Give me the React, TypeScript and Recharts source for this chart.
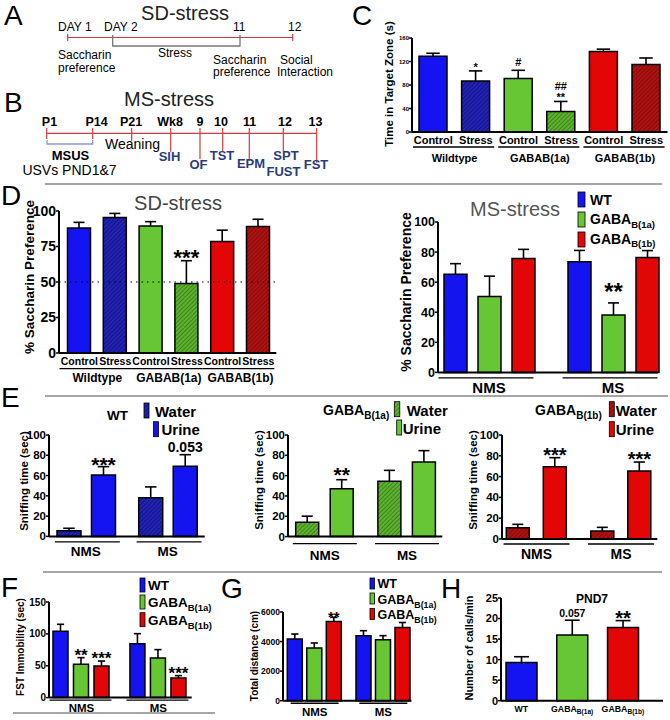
import React from 'react';
import { BarChart, Bar, XAxis, YAxis, Cell, LabelList, ReferenceLine } from 'recharts';

const FONT = '"Liberation Sans", Arial, Helvetica, sans-serif';

const BLUE = '#1414f2';
const GREEN = '#66c633';
const RED = '#e20606';
const BLUE_H = 'url(#hatchBlue)';
const GREEN_H = 'url(#hatchGreen)';
const RED_H = 'url(#hatchRed)';

// C: time in target zone (SD-stress)
const cCats = ['Control', 'Stress', 'Control', 'Stress', 'Control', 'Stress'];
const cGroups = ['Wildtype', 'GABAB(1a)', 'GABAB(1b)'];
const cMean = [129, 87, 91, 35, 137, 115];
const cSem = [5, 17, 14, 17, 4, 11];
const cSig = ['', '*', '#', '##|**', '', ''];
const cTicks = [0, 40, 80, 120, 160];

// D left: saccharin preference, SD-stress
const dCats = ['Control', 'Stress', 'Control', 'Stress', 'Control', 'Stress'];
const dGroups = ['Wildtype', 'GABAB(1a)', 'GABAB(1b)'];
const dMean = [88, 95.5, 89.5, 49, 78.5, 89];
const dSem = [4, 2.8, 3, 16, 8, 5.2];
const dSig = ['', '', '', '***', '', ''];
const dTicks = [0, 25, 50, 75, 100];

// D right: saccharin preference, MS-stress
const msGroups = ['NMS', 'MS'];
const msWT = [65.3, 73.6];
const msWTErr = [7, 7.5];
const msA = [50.5, 38.2];
const msAErr = [13.5, 8];
const msB = [75.8, 76.4];
const msBErr = [6, 4.6];
const msSigA = ['', '**'];
const pctTicks = [0, 20, 40, 60, 80, 100];

// E: sniffing time
const eGroups = ['NMS', 'MS'];
const eWtWater = [5.6, 38];
const eWtWaterErr = [2.4, 10.8];
const eWtUrine = [60.6, 69.2];
const eWtUrineErr = [8.2, 11.4];
const eWtSig = ['***', '0.053'];
const eAWater = [14.1, 54.4];
const eAWaterErr = [6, 10.8];
const eAUrine = [47.2, 73.4];
const eAUrineErr = [8.8, 11.2];
const eASig = ['**', ''];
const eBWater = [10.9, 7.7];
const eBWaterErr = [3.2, 3.5];
const eBUrine = [69.5, 65.4];
const eBUrineErr = [8.7, 8.6];
const eBSig = ['***', '***'];

// F: FST immobility
const fWT = [104, 84.6];
const fWTErr = [11, 15.7];
const fA = [52.2, 62];
const fAErr = [10.5, 13.3];
const fASig = ['**', ''];
const fB = [49.6, 30.7];
const fBErr = [7.8, 3.8];
const fBSig = ['***', '***'];
const fTicks = [0, 50, 100, 150];

// G: total distance
const gWT = [4170, 4400];
const gWTErr = [340, 335];
const gA = [3565, 4120];
const gAErr = [340, 280];
const gB = [5360, 4950];
const gBErr = [275, 340];
const gBSig = ['**', ''];
const gTicks = [0, 2000, 4000, 6000];

// H: USV calls at PND7
const hCats = ['WT', 'GABA_B(1a)', 'GABA_B(1b)'];
const hMean = [9.3, 16, 17.8];
const hSem = [1.4, 3.6, 1.7];
const hSig = ['', '0.057', '**'];
const hTicks = [0, 5, 10, 15, 20, 25];

type Series = { key: string; mean: number[]; err: number[]; sig?: string[]; fill: string | string[] };

function Whisker(p: any) {
  const { x, y, width, height } = p;
  if (!(height > 0)) return null;
  const cx = x + width / 2;
  const c = width * 0.24;
  return (
    <g>
      <line x1={cx} x2={cx} y1={y + height} y2={y} stroke="#000" strokeWidth={1.6} />
      <line x1={cx - c} x2={cx + c} y1={y} y2={y} stroke="#000" strokeWidth={1.6} />
    </g>
  );
}

function SigLabel(p: any) {
  const vb = p.viewBox ?? p;
  if (!p.value) return null;
  const cx = vb.x + vb.width / 2;
  let bottom = vb.y - p.gap;
  const lines = String(p.value).split('|').reverse();
  return (
    <g>
      {lines.map((ln, k) => {
        const star = /^\*+$/.test(ln);
        const fs = star ? p.starFs : p.txtFs;
        const base = star ? bottom + fs * 0.36 : bottom;
        bottom -= (star ? fs * 0.36 : fs * 0.72) + 3;
        return (
          <text key={k} x={cx} y={base} textAnchor="middle" fontSize={fs} fontWeight={700} fontFamily={FONT} fill="#000">
            {ln}
          </text>
        );
      })}
    </g>
  );
}

const Sub = ({ text, sfs, dy = 0.42 }: { text: string; sfs: number; dy?: number }) => {
  const [main, sub] = text.split('_');
  return (
    <>
      {main}
      {sub && <tspan fontSize={sfs} dy={sfs * dy}>{sub}</tspan>}
    </>
  );
};

const pairTick = (cats: string[], groups: string[], band: number, o: any) => (p: any) => {
  const i = p.index;
  const { x, y } = p;
  return (
    <g fontFamily={FONT} fontWeight={700} fill="#000">
      <text x={x} y={y + o.ly} textAnchor="middle" fontSize={o.fs}>{cats[i]}</text>
      {i % 2 === 0 && (
        <>
          <line x1={x - band / 2 + o.a} x2={x + 1.5 * band - o.b} y1={y + o.lineY} y2={y + o.lineY} stroke="#000" strokeWidth={1.3} />
          <text x={x + band / 2} y={y + o.gy} textAnchor="middle" fontSize={o.gfs}>{groups[i / 2]}</text>
        </>
      )}
    </g>
  );
};

const groupTick = (cats: string[], o: any) => (p: any) => {
  const { x, y } = p;
  return (
    <g fontFamily={FONT} fontWeight={700} fill="#000">
      <line x1={x + o.dx - o.w / 2} x2={x + o.dx + o.w / 2} y1={y + o.lineY} y2={y + o.lineY} stroke="#000" strokeWidth={1.4} />
      <text x={x} y={y + o.ly} textAnchor="middle" fontSize={o.fs}>{cats[p.index]}</text>
    </g>
  );
};

const hTick = (p: any) => (
  <text x={p.x} y={p.y + 11} textAnchor="middle" fontSize={8.8} fontWeight={700} fontFamily={FONT} fill="#000">
    <Sub text={hCats[p.index]} sfs={6.6} />
  </text>
);

type PanelProps = {
  x0: number; y0: number; x1: number; y1: number;
  cats: string[]; series: Series[]; max: number; ticks: number[]; tickFs: number;
  barSize: number; barGap?: number; pad?: { left: number; right: number };
  tick: any; starFs?: number; txtFs?: number; gap?: number; dotted?: number; yw?: number;
};

function Panel(pp: PanelProps) {
  const yw = pp.yw ?? 44;
  const TOP = 50;
  const RIGHT = 20;
  const XH = 42;
  const rows = pp.cats.map((c, i) => {
    const r: Record<string, any> = { name: `${c}-${i}` };
    pp.series.forEach((s) => {
      r[s.key] = s.mean[i];
      r[s.key + 'E'] = s.err[i];
      r[s.key + 'S'] = s.sig ? s.sig[i] : '';
    });
    return r;
  });
  const bars = pp.series.flatMap((s) => [
    <Bar key={s.key} dataKey={s.key} stackId={s.key} fill={typeof s.fill === 'string' ? s.fill : '#000'}
      stroke="#000" strokeWidth={1.5} isAnimationActive={false}>
      {Array.isArray(s.fill) ? s.fill.map((f, i) => <Cell key={i} fill={f} />) : null}
    </Bar>,
    <Bar key={s.key + 'E'} dataKey={s.key + 'E'} stackId={s.key} fill="none" shape={<Whisker />} isAnimationActive={false}>
      <LabelList dataKey={s.key + 'S'} content={<SigLabel gap={pp.gap ?? 3} starFs={pp.starFs ?? 18} txtFs={pp.txtFs ?? 12} />} />
    </Bar>,
  ]);
  return (
    <div style={{ position: 'absolute', left: pp.x0 - yw, top: pp.y0 - TOP }}>
      <BarChart width={pp.x1 - pp.x0 + yw + RIGHT} height={pp.y1 - pp.y0 + TOP + XH} data={rows}
        margin={{ top: TOP, right: RIGHT, bottom: 0, left: 0 }} barGap={pp.barGap ?? 4} barSize={pp.barSize}>
        <XAxis dataKey="name" height={XH} interval={0} tickLine={false} tickSize={0} tickMargin={0}
          axisLine={{ stroke: '#000', strokeWidth: 2 }} padding={pp.pad ?? { left: 0, right: 0 }} tick={pp.tick} />
        <YAxis width={yw} domain={[0, pp.max]} ticks={pp.ticks} interval={0} tickSize={3} tickMargin={0}
          axisLine={{ stroke: '#000', strokeWidth: 2 }} tickLine={{ stroke: '#000', strokeWidth: 1.5 }}
          tick={{ fontSize: pp.tickFs, fontWeight: 700, fill: '#000', fontFamily: FONT }} />
        {pp.dotted != null && <ReferenceLine y={pp.dotted} stroke="#000" strokeDasharray="1.5 4" strokeWidth={1.2} />}
        {bars}
      </BarChart>
    </div>
  );
}

const YLabel = ({ cx, cy, fs, children }: any) => (
  <text transform={`translate(${cx + fs * 0.36},${cy}) rotate(-90)`} textAnchor="middle" fontSize={fs} fontWeight={700}>
    {children}
  </text>
);

const Swatch = ({ x, y, w, h, fill }: any) => <rect x={x} y={y} width={w} height={h} fill={fill} stroke="#000" strokeWidth={0.8} />;

function Overlay() {
  const tl = '#d23c3c';
  const navy = '#2b3b7e';
  return (
    <svg width={670} height={720} style={{ position: 'absolute', left: 0, top: 0, pointerEvents: 'none' }}
      fontFamily={FONT} fill="#000">
      <defs>
        <pattern id="hatchBlue" width="3" height="3" patternUnits="userSpaceOnUse" patternTransform="rotate(45)">
          <rect width="3" height="3" fill="#2323b4" />
          <line x1="0" y1="0" x2="0" y2="3" stroke="#0a0a6e" strokeWidth="1.3" />
        </pattern>
        <pattern id="hatchGreen" width="3" height="3" patternUnits="userSpaceOnUse" patternTransform="rotate(45)">
          <rect width="3" height="3" fill="#5db22e" />
          <line x1="0" y1="0" x2="0" y2="3" stroke="#2f6a12" strokeWidth="1.3" />
        </pattern>
        <pattern id="hatchRed" width="3" height="3" patternUnits="userSpaceOnUse" patternTransform="rotate(45)">
          <rect width="3" height="3" fill="#b01212" />
          <line x1="0" y1="0" x2="0" y2="3" stroke="#6a0808" strokeWidth="1.3" />
        </pattern>
      </defs>

      {/* panel letters */}
      <g fontSize={28}>
        <text x={4} y={25}>A</text>
        <text x={4} y={112}>B</text>
        <text x={352} y={25}>C</text>
        <text x={1} y={205}>D</text>
        <text x={1} y={407}>E</text>
        <text x={1} y={597}>F</text>
        <text x={221} y={598}>G</text>
        <text x={441} y={598}>H</text>
      </g>

      {/* separators */}
      <g stroke="#888" strokeWidth={1.5}>
        <line x1={45} x2={662} y1={184} y2={184} />
        <line x1={45} x2={668} y1={396} y2={396} />
        <line x1={43} x2={662} y1={572} y2={572} />
        <line x1={13} x2={215} y1={713} y2={713} />
      </g>

      {/* A: SD-stress timeline */}
      <text x={185} y={20} fontSize={20} textAnchor="middle" fill="#222">SD-stress</text>
      <g fontSize={12}>
        <text x={58} y={31}>DAY 1</text>
        <text x={104} y={31}>DAY 2</text>
        <text x={233} y={31}>11</text>
        <text x={288} y={31}>12</text>
        <text x={58} y={59}>Saccharin</text>
        <text x={58} y={72}>preference</text>
        <text x={158} y={57}>Stress</text>
        <text x={213} y={63.5}>Saccharin</text>
        <text x={213} y={76}>preference</text>
        <text x={280} y={63.5}>Social</text>
        <text x={277} y={76}>Interaction</text>
      </g>
      <g stroke={tl} strokeWidth={1.2}>
        <line x1={67.7} x2={292.7} y1={37.5} y2={37.5} />
        <line x1={67.7} x2={67.7} y1={34} y2={41} />
        <line x1={292.7} x2={292.7} y1={34} y2={41} />
      </g>
      <path d="M112.7 35 V46 H240 V35" stroke="#777" strokeWidth={1.3} fill="none" />

      {/* B: MS-stress timeline */}
      <text x={169} y={106} fontSize={20} textAnchor="middle" fill="#222">MS-stress</text>
      <g fontSize={12.5} fontWeight={700} textAnchor="middle">
        <text x={49.5} y={126}>P1</text>
        <text x={96.5} y={126}>P14</text>
        <text x={131} y={126}>P21</text>
        <text x={170} y={126}>Wk8</text>
        <text x={200} y={126}>9</text>
        <text x={221} y={126}>10</text>
        <text x={249.5} y={126}>11</text>
        <text x={285} y={126}>12</text>
        <text x={315.5} y={126}>13</text>
      </g>
      <g stroke={tl} strokeWidth={1.2}>
        <line x1={46.7} x2={316.7} y1={133.3} y2={133.3} />
        <line x1={46.7} x2={46.7} y1={128} y2={139} />
        <line x1={92.7} x2={92.7} y1={128} y2={139} />
        <line x1={131.7} x2={131.7} y1={128} y2={141} />
        <line x1={170.7} x2={170.7} y1={128} y2={151.7} />
        <line x1={200} x2={200} y1={128} y2={159} />
        <line x1={222.7} x2={222.7} y1={128} y2={151.7} />
        <line x1={249.3} x2={249.3} y1={128} y2={160.7} />
        <line x1={283.3} x2={283.3} y1={128} y2={151.7} />
        <line x1={316.7} x2={316.7} y1={128} y2={162.7} />
      </g>
      <path d="M47 140 V144 H92.7 V140" stroke="#8a9ccc" strokeWidth={1.3} fill="none" />
      <text x={105} y={149} fontSize={14}>Weaning</text>
      <text x={70.5} y={159.5} fontSize={13} fontWeight={700} textAnchor="middle">MSUS</text>
      <text x={69.5} y={175} fontSize={14} textAnchor="middle">USVs PND1&amp;7</text>
      <g fontSize={13} fontWeight={700} textAnchor="middle" fill={navy}>
        <text x={169.5} y={161}>SIH</text>
        <text x={198.5} y={168.5}>OF</text>
        <text x={222} y={159.5}>TST</text>
        <text x={251} y={168}>EPM</text>
        <text x={286} y={159.5}>SPT</text>
        <text x={283.5} y={175.5}>FUST</text>
        <text x={316} y={168.5}>FST</text>
      </g>

      {/* C */}
      <YLabel cx={388.5} cy={84} fs={11.5}>Time in Target Zone (s)</YLabel>

      {/* D */}
      <text x={178} y={210} fontSize={20} textAnchor="middle" fill="#444">SD-stress</text>
      <YLabel cx={29} cy={277} fs={13.5}>% Saccharin Preference</YLabel>
      <text x={515} y={216} fontSize={20} textAnchor="middle" fill="#555">MS-stress</text>
      <YLabel cx={406} cy={292} fs={14}>% Saccharin Preference</YLabel>
      <Swatch x={578} y={192} w={7} h={15} fill={BLUE} />
      <Swatch x={578} y={212} w={7} h={15} fill={GREEN} />
      <Swatch x={578} y={232} w={7} h={15} fill={RED} />
      <g fontSize={14} fontWeight={700}>
        <text x={590} y={205}>WT</text>
        <text x={590} y={224}><Sub text="GABA_B(1a)" sfs={9.5} /></text>
        <text x={590} y={243.5}><Sub text="GABA_B(1b)" sfs={9.5} /></text>
      </g>

      {/* E */}
      <YLabel cx={24} cy={481} fs={11.5}>Sniffing time (sec)</YLabel>
      <YLabel cx={259} cy={480} fs={11.5}>Sniffing time (sec)</YLabel>
      <YLabel cx={473} cy={480} fs={11.5}>Sniffing time (sec)</YLabel>
      <g fontSize={14} fontWeight={700}>
        <text x={117.5} y={420} textAnchor="middle" fontSize={13.5}>WT</text>
        <text x={323} y={415}><Sub text="GABA_B(1a)" sfs={10} /></text>
        <text x={535} y={415}><Sub text="GABA_B(1b)" sfs={10} /></text>
      </g>
      <Swatch x={144} y={403} w={5} h={15} fill={BLUE_H} />
      <Swatch x={153.5} y={421.7} w={5} h={15} fill={BLUE} />
      <Swatch x={394.3} y={401.7} w={5.5} h={15} fill={GREEN_H} />
      <Swatch x={396.7} y={420} w={5} h={15} fill={GREEN} />
      <Swatch x={609.3} y={401.7} w={5} h={15} fill={RED_H} />
      <Swatch x={609.3} y={421.7} w={5} h={15} fill={RED} />
      <g fontSize={15} fontWeight={700}>
        <text x={155} y={417}>Water</text>
        <text x={161.5} y={435}>Urine</text>
        <text x={406.7} y={416}>Water</text>
        <text x={402.7} y={434}>Urine</text>
        <text x={615.7} y={416}>Water</text>
        <text x={615.7} y={435}>Urine</text>
      </g>

      {/* F */}
      <YLabel cx={20} cy={647} fs={10}>FST Immobility (sec)</YLabel>
      <Swatch x={140} y={578} w={5} h={14} fill={BLUE} />
      <Swatch x={140} y={595} w={5} h={14} fill={GREEN} />
      <Swatch x={140} y={612.7} w={5} h={14} fill={RED} />
      <g fontSize={13.5} fontWeight={700}>
        <text x={148} y={590}>WT</text>
        <text x={148} y={607.3}><Sub text="GABA_B(1a)" sfs={9.5} /></text>
        <text x={148} y={625}><Sub text="GABA_B(1b)" sfs={9.5} /></text>
      </g>

      {/* G */}
      <YLabel cx={254} cy={656} fs={10}>Total distance (cm)</YLabel>
      <Swatch x={370} y={578} w={4.5} h={11} fill={BLUE} />
      <Swatch x={370} y={593} w={4.5} h={11} fill={GREEN} />
      <Swatch x={370} y={608.5} w={4.5} h={11} fill={RED} />
      <g fontSize={12.5} fontWeight={700}>
        <text x={377.5} y={588.3}>WT</text>
        <text x={377.5} y={604}><Sub text="GABA_B(1a)" sfs={8.8} /></text>
        <text x={377.5} y={619.3}><Sub text="GABA_B(1b)" sfs={8.8} /></text>
      </g>

      {/* H */}
      <YLabel cx={469} cy={648} fs={11}>Number of calls/min</YLabel>
      <text x={592} y={603} fontSize={12} fontWeight={700} textAnchor="middle">PND7</text>
    </svg>
  );
}

export default function App() {
  const cBand = 42.6;
  const dBand = 35.8;
  return (
    <div style={{ position: 'absolute', left: 0, top: 0, width: 670, height: 720, background: '#fff', fontFamily: FONT, overflow: 'hidden' }}>
      {/* C */}
      <Panel x0={411.7} y0={37.7} x1={411.7 + 6 * cBand} y1={131.7} cats={cCats} max={160} ticks={cTicks} tickFs={6}
        series={[{ key: 'c', mean: cMean, err: cSem, sig: cSig, fill: [BLUE, BLUE_H, GREEN, GREEN_H, RED, RED_H] }]}
        barSize={28} starFs={11} txtFs={11} gap={4} yw={30}
        tick={pairTick(cCats, cGroups, cBand, { fs: 11, ly: 12.5, lineY: 15, gy: 30, gfs: 11, a: 1, b: 3 })} />

      {/* D left */}
      <Panel x0={59} y0={210.7} x1={59 + 2.5 + 6 * dBand} y1={352.7} cats={dCats} max={100} ticks={dTicks} tickFs={14}
        series={[{ key: 'd', mean: dMean, err: dSem, sig: dSig, fill: [BLUE, BLUE_H, GREEN, GREEN_H, RED, RED_H] }]}
        barSize={23} pad={{ left: 2.5, right: 0 }} starFs={22} gap={4} dotted={50}
        tick={pairTick(dCats, dGroups, dBand, { fs: 10.5, ly: 12.5, lineY: 15.6, gy: 29, gfs: 12, a: -2, b: 2 })} />

      {/* D right */}
      <Panel x0={438} y0={222.3} x1={658} y1={372.7} cats={msGroups} max={100} ticks={pctTicks} tickFs={12.5}
        series={[
          { key: 'w', mean: msWT, err: msWTErr, fill: BLUE },
          { key: 'a', mean: msA, err: msAErr, sig: msSigA, fill: GREEN },
          { key: 'b', mean: msB, err: msBErr, fill: RED },
        ]}
        barSize={23} barGap={11} pad={{ left: -11, right: -17 }} starFs={24} gap={12}
        tick={groupTick(msGroups, { fs: 15, lineY: 5.5, ly: 20.5, w: 95, dx: -3 })} />

      {/* E WT */}
      <Panel x0={49.3} y0={435.3} x1={205} y1={536.7} cats={eGroups} max={100} ticks={pctTicks} tickFs={11.5}
        series={[
          { key: 'w', mean: eWtWater, err: eWtWaterErr, fill: BLUE_H },
          { key: 'u', mean: eWtUrine, err: eWtUrineErr, sig: eWtSig, fill: BLUE },
        ]}
        barSize={24} barGap={10.5} pad={{ left: -4, right: -3.75 }} starFs={21} txtFs={14} gap={2.5}
        tick={groupTick(eGroups, { fs: 13.5, lineY: 5.5, ly: 19.5, w: 65, dx: 1.5 })} />

      {/* E GABAB(1a) */}
      <Panel x0={287.7} y0={434.7} x1={442} y1={536.3} cats={eGroups} max={100} ticks={pctTicks} tickFs={11.5}
        series={[
          { key: 'w', mean: eAWater, err: eAWaterErr, fill: GREEN_H },
          { key: 'u', mean: eAUrine, err: eAUrineErr, sig: eASig, fill: GREEN },
        ]}
        barSize={23} barGap={11.5} pad={{ left: -4.3, right: -5.8 }} starFs={21} gap={5}
        tick={groupTick(eGroups, { fs: 13.5, lineY: 7, ly: 23.5, w: 64, dx: 0 })} />

      {/* E GABAB(1b) */}
      <Panel x0={501.7} y0={435} x1={657} y1={539} cats={eGroups} max={100} ticks={pctTicks} tickFs={11.5}
        series={[
          { key: 'w', mean: eBWater, err: eBWaterErr, fill: RED_H },
          { key: 'u', mean: eBUrine, err: eBUrineErr, sig: eBSig, fill: RED },
        ]}
        barSize={23} barGap={14} pad={{ left: -7.7, right: -6 }} starFs={20} gap={3}
        tick={groupTick(eGroups, { fs: 14, lineY: 5, ly: 20, w: 66, dx: 0 })} />

      {/* F */}
      <Panel x0={49.3} y0={601.7} x1={192} y1={697.3} cats={eGroups} max={150} ticks={fTicks} tickFs={10}
        series={[
          { key: 'w', mean: fWT, err: fWTErr, fill: BLUE },
          { key: 'a', mean: fA, err: fAErr, sig: fASig, fill: GREEN },
          { key: 'b', mean: fB, err: fBErr, sig: fBSig, fill: RED },
        ]}
        barSize={15} barGap={5.5} pad={{ left: -6, right: -5.2 }} starFs={17} gap={3}
        tick={groupTick(eGroups, { fs: 11.5, lineY: 2.5, ly: 14.5, w: 62, dx: -1 })} />

      {/* G */}
      <Panel x0={283.3} y0={612.3} x1={411.7} y1={701} cats={eGroups} max={6000} ticks={gTicks} tickFs={8.5}
        series={[
          { key: 'w', mean: gWT, err: gWTErr, fill: BLUE },
          { key: 'a', mean: gA, err: gAErr, fill: GREEN },
          { key: 'b', mean: gB, err: gBErr, sig: gBSig, fill: RED },
        ]}
        barSize={15} barGap={4.5} pad={{ left: -2.7, right: -6.3 }} starFs={15} gap={1}
        tick={groupTick(eGroups, { fs: 11.5, lineY: 2.5, ly: 15.5, w: 48, dx: 0 })} />

      {/* H */}
      <Panel x0={501} y0={598.3} x1={663} y1={701} cats={hCats} max={25} ticks={hTicks} tickFs={11}
        series={[{ key: 'h', mean: hMean, err: hSem, sig: hSig, fill: [BLUE, GREEN, RED] }]}
        barSize={31} pad={{ left: -5, right: 14.7 }} starFs={20} txtFs={10.5} gap={3}
        tick={hTick} />

      <Overlay />
    </div>
  );
}
